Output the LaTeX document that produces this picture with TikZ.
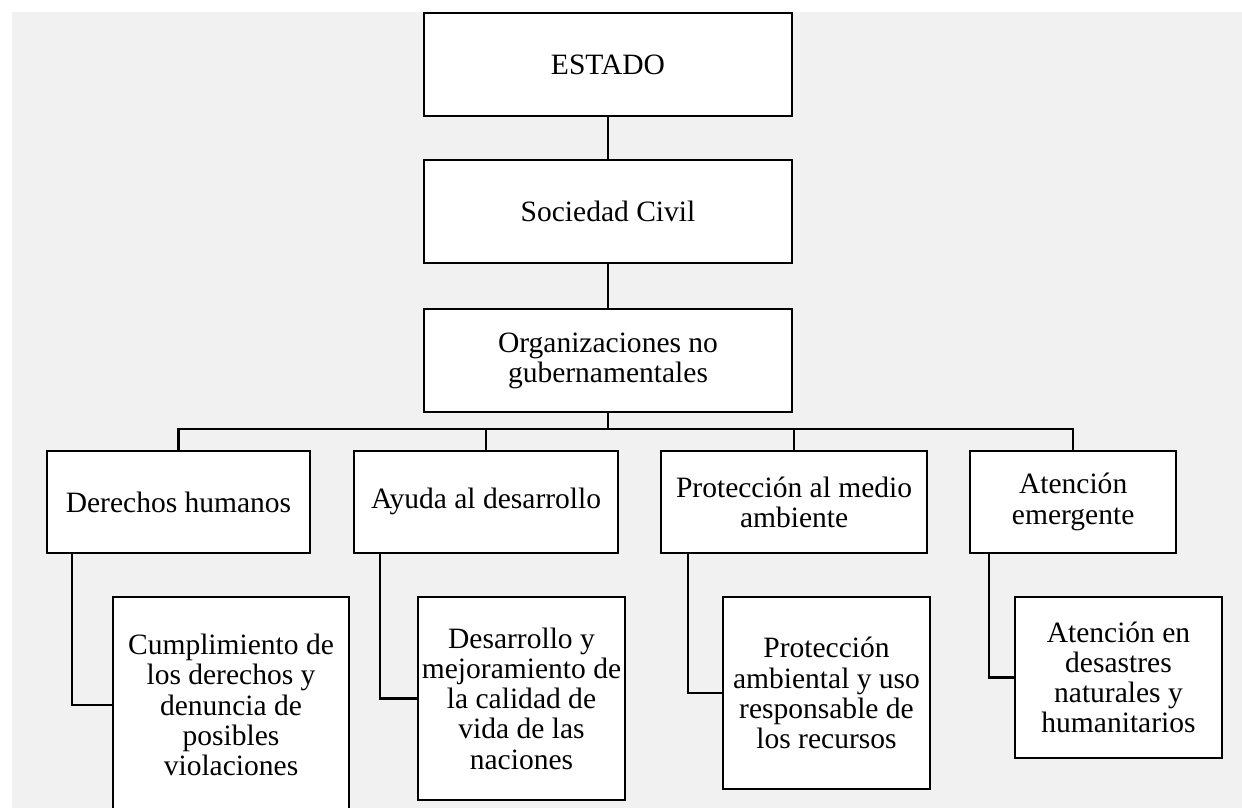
\documentclass[tikz,border=0pt]{standalone}
\usepackage{fontspec}
\setmainfont{Liberation Serif}
\usepackage{tikz}
\usetikzlibrary{positioning}
\definecolor{bggray}{HTML}{F1F1F1}

\begin{document}
\begin{tikzpicture}[x=0.02cm, y=-0.02cm]
    \tikzstyle{orgbox} = [rectangle, draw=black, fill=white, line width=1.2pt, align=center, inner sep=2pt, font=\fontsize{16.8}{17.2}\selectfont]
    \tikzstyle{topbox} = [orgbox, minimum width=7.36cm, minimum height=2.06cm]
    \tikzstyle{areabox} = [orgbox, minimum height=2.04cm]
    \tikzstyle{link} = [line width=1.2pt]

    % page and background
    \useasboundingbox (0,0) rectangle (1242,808);
    \clip (0,0) rectangle (1242,808);
    \fill [bggray] (12,12) rectangle (1242,808);

    \node [topbox] (estado) at (608,64.5) {ESTADO};
    \node [topbox, below=0.84cm of estado] (sociedad) {Sociedad Civil};
    \node [topbox, below=0.88cm of sociedad] (ong) {Organizaciones no\\gubernamentales};

    \node [areabox, minimum width=5.26cm] (derechos) at (178.5,502) {Derechos humanos};
    \node [areabox, minimum width=5.28cm, right=0.84cm of derechos] (ayuda) {Ayuda al desarrollo\strut};
    \node [areabox, minimum width=5.32cm, right=0.82cm of ayuda] (proteccion) {Protección al medio\\ambiente};
    \node [areabox, minimum width=4.12cm, right=0.82cm of proteccion] (atencion) {Atención\\emergente};

    \node [orgbox, minimum width=4.72cm, minimum height=4.32cm] (cumplimiento) at (231,705) {Cumplimiento de\\los derechos y\\denuncia de\\posibles\\violaciones};
    \node [orgbox, minimum width=4.10cm, minimum height=4.06cm] (desarrollo) at (521.5,698.5) {Desarrollo y\\mejoramiento de\\la calidad de\\vida de las\\naciones};
    \node [orgbox, minimum width=4.14cm, minimum height=3.84cm] (ambiental) at (826.5,693) {Protección\\ambiental y uso\\responsable de\\los recursos};
    \node [orgbox, minimum width=4.14cm, minimum height=3.22cm] (desastres) at (1118.5,677.5) {Atención en\\desastres\\naturales y\\humanitarios};

    % connectors
    \coordinate (bus) at (608,429);
    \draw [link] (estado) -- (sociedad);
    \draw [link] (sociedad) -- (ong);
    \draw [link] (ong.south) -- (bus);
    \draw [link] (derechos.north) -- (derechos.north |- bus) -- (atencion.north |- bus) -- (atencion.north);
    \draw [link] (ayuda.north) -- (ayuda.north |- bus);
    \draw [link] (proteccion.north) -- (proteccion.north |- bus);

    \draw [link] ([xshift=0.52cm]derechos.south west) |- (cumplimiento.west);
    \draw [link] ([xshift=0.54cm]ayuda.south west) |- (desarrollo.west);
    \draw [link] ([xshift=0.56cm]proteccion.south west) |- (ambiental.west);
    \draw [link] ([xshift=0.40cm]atencion.south west) |- (desastres.west);
\end{tikzpicture}
\end{document}
